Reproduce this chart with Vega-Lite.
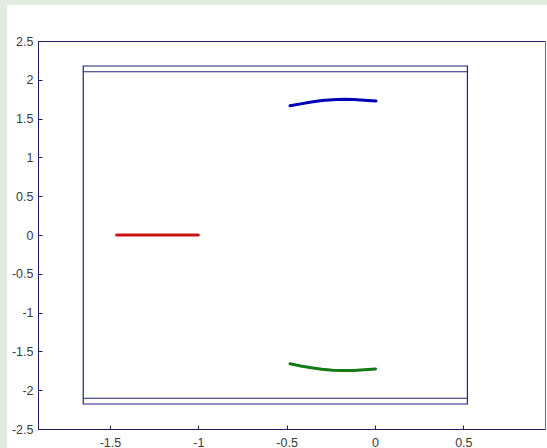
{
  "$schema": "https://vega.github.io/schema/vega-lite/v6.json",
  "autosize": "none",
  "width": 507,
  "height": 388,
  "padding": {"left": 38, "top": 41, "right": 2, "bottom": 19},
  "background": "#e1ece1",
  "config": {
    "view": {"stroke": null},
    "axis": {
      "grid": false,
      "title": null,
      "domainColor": "#1c1c5c",
      "tickColor": "#1c1c5c",
      "tickSize": -4,
      "labelColor": "#3a3a3a",
      "labelFont": "Liberation Sans",
      "labelFontSize": 12.5
    }
  },
  "datasets": {
    "figure": [{"x": -2.082, "x2": 1.2, "y": -3.0, "y2": 2.964}],
    "box": [{"x": -1.651, "x2": 0.523, "y": -2.178, "y2": 2.178}],
    "walls": [
      {"x": -1.651, "x2": 0.523, "y": 2.104},
      {"x": -1.651, "x2": 0.523, "y": -2.104}
    ],
    "curves": [
      {"series": "red", "x": -1.462, "y": 0.0},
      {"series": "red", "x": -1.0, "y": 0.0},
      {"series": "blue", "x": -0.481, "y": 1.665},
      {"series": "blue", "x": -0.42, "y": 1.69},
      {"series": "blue", "x": -0.36, "y": 1.713},
      {"series": "blue", "x": -0.3, "y": 1.732},
      {"series": "blue", "x": -0.24, "y": 1.744},
      {"series": "blue", "x": -0.18, "y": 1.749},
      {"series": "blue", "x": -0.12, "y": 1.746},
      {"series": "blue", "x": -0.06, "y": 1.738},
      {"series": "blue", "x": 0.006, "y": 1.728},
      {"series": "green", "x": -0.481, "y": -1.66},
      {"series": "green", "x": -0.42, "y": -1.688},
      {"series": "green", "x": -0.36, "y": -1.712},
      {"series": "green", "x": -0.3, "y": -1.73},
      {"series": "green", "x": -0.24, "y": -1.742},
      {"series": "green", "x": -0.18, "y": -1.747},
      {"series": "green", "x": -0.12, "y": -1.745},
      {"series": "green", "x": -0.06, "y": -1.737},
      {"series": "green", "x": 0.003, "y": -1.726}
    ]
  },
  "resolve": {"axis": {"x": "independent", "y": "independent"}},
  "layer": [
    {
      "data": {"name": "figure"},
      "mark": {"type": "rect", "fill": "#ffffff", "clip": false},
      "encoding": {
        "x": {
          "field": "x", "type": "quantitative",
          "scale": {"domain": [-1.907, 0.962], "nice": false, "zero": false},
          "axis": {"orient": "bottom", "zindex": 2, "labelPadding": 11, "values": [-1.5, -1, -0.5, 0, 0.5], "labelExpr": "'' + datum.value"}
        },
        "x2": {"field": "x2"},
        "y": {
          "field": "y", "type": "quantitative",
          "scale": {"domain": [-2.5, 2.5], "nice": false, "zero": false},
          "axis": {"orient": "left", "zindex": 2, "labelPadding": 9, "values": [-2.5, -2, -1.5, -1, -0.5, 0, 0.5, 1, 1.5, 2, 2.5], "labelExpr": "'' + datum.value"}
        },
        "y2": {"field": "y2"}
      }
    },
    {
      "data": {"name": "box"},
      "mark": {"type": "rect", "fill": null, "stroke": "#23237a", "strokeWidth": 1.2},
      "encoding": {
        "x": {"field": "x", "type": "quantitative", "axis": {"orient": "top", "zindex": 2, "labels": false, "ticks": false}},
        "x2": {"field": "x2"},
        "y": {"field": "y", "type": "quantitative", "axis": {"orient": "right", "zindex": 2, "labels": false, "ticks": false, "domainColor": "#6a6a8a"}},
        "y2": {"field": "y2"}
      }
    },
    {
      "data": {"name": "walls"},
      "mark": {"type": "rule", "color": "#23237a", "strokeWidth": 1.2},
      "encoding": {
        "x": {"field": "x", "type": "quantitative", "axis": null},
        "x2": {"field": "x2"},
        "y": {"field": "y", "type": "quantitative", "axis": null}
      }
    },
    {
      "data": {"name": "curves"},
      "mark": {"type": "line", "strokeWidth": 3, "strokeCap": "round"},
      "encoding": {
        "x": {"field": "x", "type": "quantitative", "axis": null},
        "y": {"field": "y", "type": "quantitative", "axis": null},
        "detail": {"field": "series"},
        "color": {
          "field": "series", "type": "nominal", "legend": null,
          "scale": {"domain": ["red", "blue", "green"], "range": ["#cc1414", "#0000b8", "#147a14"]}
        }
      }
    }
  ]
}
